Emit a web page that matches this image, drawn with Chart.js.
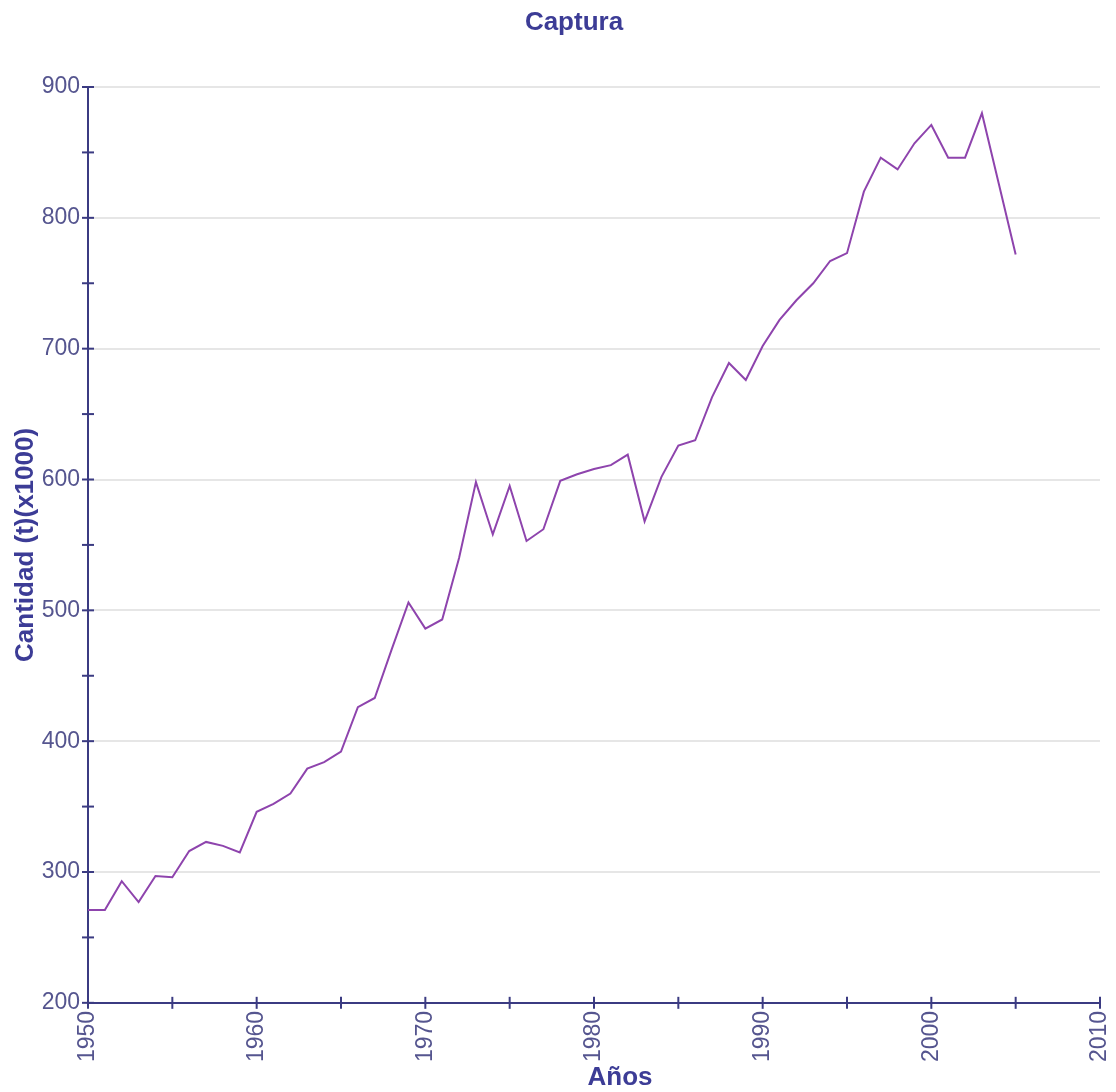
<!DOCTYPE html>
<html>
<head>
<meta charset="utf-8">
<script src="https://cdn.jsdelivr.net/npm/chart.js@4"></script>
<style>
  html, body { margin: 0; padding: 0; background: #ffffff; }
  #wrap { width: 1116px; height: 1092px; position: relative; }
</style>
</head>
<body>
<div id="wrap"><canvas id="c" width="1116" height="1092"></canvas></div>
<script>
const years = [1950,1951,1952,1953,1954,1955,1956,1957,1958,1959,
               1960,1961,1962,1963,1964,1965,1966,1967,1968,1969,
               1970,1971,1972,1973,1974,1975,1976,1977,1978,1979,
               1980,1981,1982,1983,1984,1985,1986,1987,1988,1989,
               1990,1991,1992,1993,1994,1995,1996,1997,1998,1999,
               2000,2001,2002,2003,2004,2005];
const capture = [271,271,293,277,297,296,316,323,320,315,
                 346,352,360,379,384,392,426,433,470,506,
                 486,493,540,598,558,595,553,562,599,604,
                 608,611,619,568,602,626,630,663,689,676,
                 702,722,737,750,767,773,820,846,837,857,
                 871,846,846,880,826,772];
const xTicks = [1950,1960,1970,1980,1990,2000,2010];
const yTicks = [200,300,400,500,600,700,800,900];

const titleText = 'Captura';
const xTitle = 'Años';
const yTitle = 'Cantidad (t)(x1000)';

const axisColor = '#3b3b82';
const labelColor = '#55558f';
const titleColor = '#3c3c96';
const lineColor = '#8e44ad';
const boldFont = 'bold 26px "Liberation Sans", Arial, sans-serif';

const crossTicks = {
  id: 'crossTicks',
  afterDraw(chart) {
    const ctx = chart.ctx;
    const xs = chart.scales.x, ys = chart.scales.y;
    const a = chart.chartArea;
    ctx.save();
    ctx.strokeStyle = axisColor;
    ctx.lineWidth = 2;
    ys.ticks.forEach(t => {
      const y = ys.getPixelForValue(t.value);
      ctx.beginPath(); ctx.moveTo(a.left - 6, y); ctx.lineTo(a.left + 6, y); ctx.stroke();
    });
    xs.ticks.forEach(t => {
      const x = xs.getPixelForValue(t.value);
      ctx.beginPath(); ctx.moveTo(x, a.bottom - 6); ctx.lineTo(x, a.bottom + 6); ctx.stroke();
    });
    // chart title and x-axis title
    ctx.fillStyle = titleColor;
    ctx.font = boldFont;
    ctx.textAlign = 'center';
    ctx.textBaseline = 'middle';
    const mid = (a.left + a.right) / 2;
    ctx.fillText(titleText, mid - 20, 23);
    ctx.fillText(xTitle, mid + 26, chart.height - 14);
    ctx.restore();
  }
};

new Chart(document.getElementById('c'), {
  type: 'line',
  data: {
    datasets: [{
      data: years.map((y, i) => ({ x: y, y: capture[i] })),
      borderColor: lineColor,
      borderWidth: 2,
      pointRadius: 0,
      tension: 0,
      fill: false
    }]
  },
  options: {
    responsive: false,
    animation: false,
    devicePixelRatio: 1,
    layout: { padding: { left: 0, right: 0, top: 87, bottom: 28 } },
    plugins: {
      legend: { display: false },
      tooltip: { enabled: false },
      title: { display: false }
    },
    scales: {
      x: {
        type: 'linear',
        min: 1950, max: 2010,
        border: { color: axisColor, width: 2 },
        grid: { drawOnChartArea: false, tickColor: 'transparent', tickLength: 6 },
        ticks: {
          stepSize: 5,
          autoSkip: false,
          maxRotation: 90, minRotation: 90,
          color: labelColor,
          padding: 2,
          font: { family: 'Liberation Sans, Arial, sans-serif', size: 23 },
          callback: v => xTicks.includes(v) ? String(v) : ''
        },
        afterFit: s => { s.paddingRight = 16; }
      },
      y: {
        type: 'linear',
        min: 200, max: 900,
        border: { color: axisColor, width: 2 },
        grid: {
          color: ctx => (ctx.tick && yTicks.includes(ctx.tick.value) && ctx.tick.value !== 200) ? '#e6e6e6' : 'transparent',
          lineWidth: 2,
          tickColor: 'transparent', tickLength: 6
        },
        ticks: {
          stepSize: 50,
          autoSkip: false,
          color: labelColor,
          padding: 2,
          font: { family: 'Liberation Sans, Arial, sans-serif', size: 23 },
          callback: v => yTicks.includes(v) ? String(v) : ''
        },
        title: {
          display: true, text: yTitle, color: titleColor,
          font: { family: 'Liberation Sans, Arial, sans-serif', size: 26, weight: 'bold' },
          padding: { top: 10, bottom: 0 }
        },
        afterFit: s => { s.width = 88; }
      }
    }
  },
  plugins: [crossTicks]
});
</script>
</body>
</html>
